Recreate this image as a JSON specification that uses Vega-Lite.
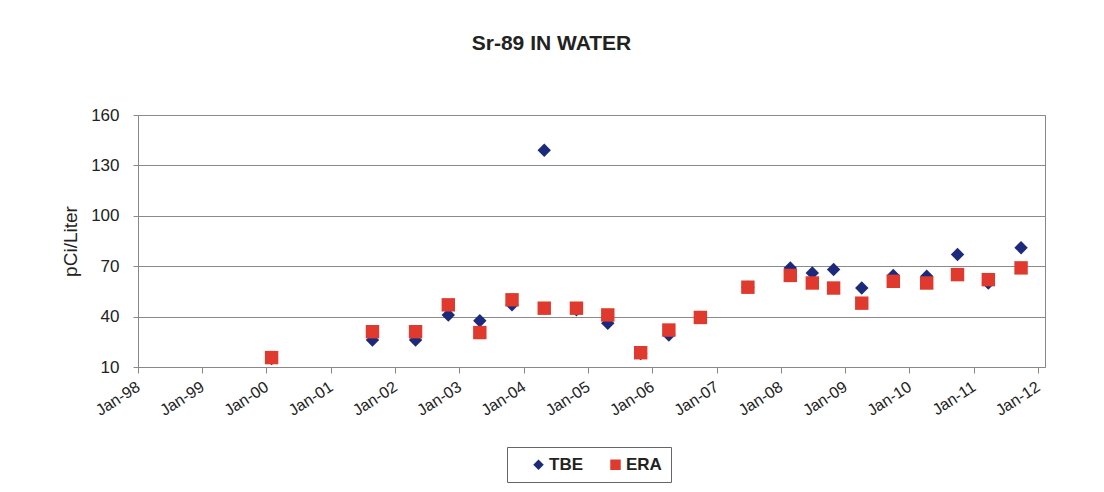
{
  "$schema": "https://vega.github.io/schema/vega-lite/v6.json",
  "width": 907,
  "height": 252,
  "autosize": {"type": "none"},
  "padding": {"left": 138, "top": 115, "right": 59, "bottom": 125},
  "background": "white",
  "title": {
    "text": "Sr-89 IN WATER",
    "font": "Liberation Sans, Arial",
    "fontSize": 21,
    "fontWeight": "bold",
    "color": "#222222",
    "anchor": "middle",
    "frame": "group",
    "dx": -40,
    "offset": 52
  },
  "data": {
    "values": [
      {"date": "2000-01-30", "series": "TBE", "value": 15},
      {"date": "2001-08-25", "series": "TBE", "value": 26},
      {"date": "2002-04-27", "series": "TBE", "value": 26},
      {"date": "2002-10-30", "series": "TBE", "value": 41},
      {"date": "2003-04-27", "series": "TBE", "value": 37.5},
      {"date": "2003-10-27", "series": "TBE", "value": 47},
      {"date": "2004-04-27", "series": "TBE", "value": 139},
      {"date": "2004-10-27", "series": "TBE", "value": 44},
      {"date": "2005-04-23", "series": "TBE", "value": 36},
      {"date": "2005-10-27", "series": "TBE", "value": 18},
      {"date": "2006-04-05", "series": "TBE", "value": 29},
      {"date": "2006-10-01", "series": "TBE", "value": 39.5},
      {"date": "2007-06-28", "series": "TBE", "value": 57.5},
      {"date": "2008-02-24", "series": "TBE", "value": 69},
      {"date": "2008-06-28", "series": "TBE", "value": 66},
      {"date": "2008-10-27", "series": "TBE", "value": 68},
      {"date": "2009-04-05", "series": "TBE", "value": 57},
      {"date": "2009-10-01", "series": "TBE", "value": 64.5},
      {"date": "2010-04-09", "series": "TBE", "value": 64},
      {"date": "2010-10-01", "series": "TBE", "value": 77},
      {"date": "2011-03-25", "series": "TBE", "value": 60},
      {"date": "2011-09-27", "series": "TBE", "value": 81},
      {"date": "2000-01-30", "series": "ERA", "value": 15.6},
      {"date": "2001-08-25", "series": "ERA", "value": 31},
      {"date": "2002-04-27", "series": "ERA", "value": 31},
      {"date": "2002-10-30", "series": "ERA", "value": 47},
      {"date": "2003-04-27", "series": "ERA", "value": 30.5},
      {"date": "2003-10-27", "series": "ERA", "value": 50},
      {"date": "2004-04-27", "series": "ERA", "value": 45},
      {"date": "2004-10-27", "series": "ERA", "value": 45},
      {"date": "2005-04-23", "series": "ERA", "value": 41},
      {"date": "2005-10-27", "series": "ERA", "value": 18.5},
      {"date": "2006-04-05", "series": "ERA", "value": 32},
      {"date": "2006-10-01", "series": "ERA", "value": 39.5},
      {"date": "2007-06-28", "series": "ERA", "value": 57.5},
      {"date": "2008-02-24", "series": "ERA", "value": 64.5},
      {"date": "2008-06-28", "series": "ERA", "value": 60},
      {"date": "2008-10-27", "series": "ERA", "value": 57},
      {"date": "2009-04-05", "series": "ERA", "value": 48},
      {"date": "2009-10-01", "series": "ERA", "value": 61},
      {"date": "2010-04-09", "series": "ERA", "value": 60},
      {"date": "2010-10-01", "series": "ERA", "value": 65},
      {"date": "2011-03-25", "series": "ERA", "value": 62},
      {"date": "2011-09-27", "series": "ERA", "value": 69}
    ]
  },
  "mark": {"type": "point", "filled": true, "opacity": 1, "size": 180},
  "encoding": {
    "x": {
      "field": "date",
      "type": "temporal",
      "scale": {"domain": [{"year": 1998, "month": 1, "date": 1}, {"year": 2012, "month": 2, "date": 10}]},
      "axis": {
        "title": null,
        "values": [
          {"year": 1998, "month": 1, "date": 1}, {"year": 1999, "month": 1, "date": 1},
          {"year": 2000, "month": 1, "date": 1}, {"year": 2001, "month": 1, "date": 1},
          {"year": 2002, "month": 1, "date": 1}, {"year": 2003, "month": 1, "date": 1},
          {"year": 2004, "month": 1, "date": 1}, {"year": 2005, "month": 1, "date": 1},
          {"year": 2006, "month": 1, "date": 1}, {"year": 2007, "month": 1, "date": 1},
          {"year": 2008, "month": 1, "date": 1}, {"year": 2009, "month": 1, "date": 1},
          {"year": 2010, "month": 1, "date": 1}, {"year": 2011, "month": 1, "date": 1},
          {"year": 2012, "month": 1, "date": 1}
        ],
        "format": "%b-%y",
        "labelAngle": -33,
        "labelAlign": "right",
        "labelBaseline": "middle",
        "labelPadding": 12,
        "labelFontSize": 16,
        "labelFont": "Liberation Sans, Arial",
        "labelColor": "#222222",
        "labelOverlap": false,
        "labelFlush": false,
        "grid": false,
        "ticks": true,
        "tickSize": 6,
        "tickColor": "#888888",
        "domainColor": "#888888"
      }
    },
    "y": {
      "field": "value",
      "type": "quantitative",
      "scale": {"domain": [10, 160], "nice": false, "zero": false},
      "axis": {
        "title": "pCi/Liter",
        "titleFont": "Liberation Sans, Arial",
        "titleFontSize": 19,
        "titleFontWeight": "normal",
        "titleColor": "#222222",
        "titlePadding": 10,
        "values": [10, 40, 70, 100, 130, 160],
        "labelFontSize": 17,
        "labelFont": "Liberation Sans, Arial",
        "labelColor": "#222222",
        "labelPadding": 14,
        "tickSize": 5,
        "tickColor": "#888888",
        "domainColor": "#888888",
        "grid": true,
        "gridColor": "#8a8a8a",
        "gridWidth": 1
      }
    },
    "color": {
      "field": "series",
      "type": "nominal",
      "sort": ["TBE", "ERA"],
      "scale": {"domain": ["TBE", "ERA"], "range": ["#1c2a7c", "#e03a2f"]},
      "legend": {
        "title": null,
        "orient": "none",
        "legendX": 369,
        "legendY": 332,
        "direction": "horizontal",
        "strokeColor": "#666666",
        "padding": 9,
        "columnPadding": 10,
        "labelFont": "Liberation Sans, Arial",
        "labelFontSize": 17,
        "labelFontWeight": "bold",
        "labelColor": "#222222",
        "symbolSize": 110,
        "symbolOffset": 14,
        "labelOffset": 2
      }
    },
    "shape": {
      "field": "series",
      "type": "nominal",
      "sort": ["TBE", "ERA"],
      "scale": {"domain": ["TBE", "ERA"], "range": ["diamond", "square"]}
    }
  },
  "config": {
    "view": {"stroke": "#888888", "strokeWidth": 1}
  }
}
